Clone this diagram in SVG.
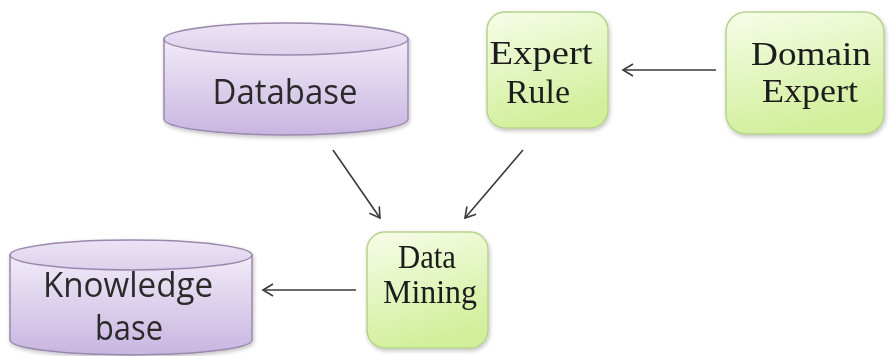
<svg xmlns="http://www.w3.org/2000/svg" width="889" height="356" viewBox="0 0 889 356">
  <defs>
    <linearGradient id="purple" x1="0" y1="0" x2="0" y2="1">
      <stop offset="0" stop-color="#f1ebf8"/>
      <stop offset="1" stop-color="#c8b5e0"/>
    </linearGradient>
    <linearGradient id="purpleTop" x1="0" y1="0" x2="0" y2="1">
      <stop offset="0" stop-color="#ece4f5"/>
      <stop offset="1" stop-color="#ddd0ec"/>
    </linearGradient>
    <linearGradient id="green" x1="0" y1="0" x2="0.3" y2="1">
      <stop offset="0" stop-color="#f7fde9"/>
      <stop offset="1" stop-color="#d2ef9c"/>
    </linearGradient>
    <marker id="arrow" viewBox="-12 -7 14 14" markerWidth="14" markerHeight="14" refX="0" refY="0" orient="auto" markerUnits="userSpaceOnUse">
      <path d="M-10,-6 L0,0 L-10,6" fill="none" stroke="#3a3a3a" stroke-width="1.6"/>
    </marker>
    <filter id="shadow" x="-10%" y="-10%" width="125%" height="125%">
      <feGaussianBlur in="SourceAlpha" stdDeviation="2"/>
      <feOffset dx="1" dy="2" result="b"/>
      <feComponentTransfer><feFuncA type="linear" slope="0.25"/></feComponentTransfer>
      <feMerge><feMergeNode/><feMergeNode in="SourceGraphic"/></feMerge>
    </filter>
  </defs>
  <style>
    .cyl { fill: url(#purple); stroke: #9a88ad; stroke-width: 1.5; }
    .cyltop { fill: url(#purpleTop); stroke: #9a88ad; stroke-width: 1.5; }
    .box { fill: url(#green); stroke: #b7d48e; stroke-width: 1.5; }
    .sans { font-family: "Open Sans", "Liberation Sans", sans-serif; font-size: 34px; fill: #2b2b2b; text-anchor: middle; }
    .serif { font-family: "Liberation Serif", "Times New Roman", serif; font-size: 33px; fill: #1a1a1a; text-anchor: middle; }
    .conn { stroke: #3a3a3a; stroke-width: 1.6; fill: none; }
  </style>

  <g id="database" filter="url(#shadow)">
    <path class="cyl" d="M164,39 L164,119 A122,16 0 0 0 408,119 L408,39 Z"/>
    <ellipse class="cyltop" cx="286" cy="39" rx="122" ry="16"/>
    <text class="sans" x="285" y="104" font-size="35" textLength="145" lengthAdjust="spacingAndGlyphs">Database</text>
  </g>

  <g id="expert-rule" filter="url(#shadow)">
    <rect class="box" x="487" y="12" width="121" height="116" rx="18"/>
    <text class="serif" x="541" y="64" textLength="103" lengthAdjust="spacingAndGlyphs">Expert</text>
    <text class="serif" x="538" y="103" textLength="64" lengthAdjust="spacingAndGlyphs">Rule</text>
  </g>

  <g id="domain-expert" filter="url(#shadow)">
    <rect class="box" x="726" y="12" width="158" height="122" rx="20"/>
    <text class="serif" x="811" y="65" textLength="120" lengthAdjust="spacingAndGlyphs">Domain</text>
    <text class="serif" x="810" y="102" textLength="96" lengthAdjust="spacingAndGlyphs">Expert</text>
  </g>

  <g id="data-mining" filter="url(#shadow)">
    <rect class="box" x="367" y="232" width="121" height="116" rx="18"/>
    <text class="serif" x="427" y="268" font-size="31" textLength="58" lengthAdjust="spacingAndGlyphs">Data</text>
    <text class="serif" x="430" y="303" font-size="31" textLength="94" lengthAdjust="spacingAndGlyphs">Mining</text>
  </g>

  <g id="knowledge-base" filter="url(#shadow)">
    <path class="cyl" d="M10,255 L10,340 A121,15 0 0 0 252,340 L252,255 Z"/>
    <ellipse class="cyltop" cx="131" cy="255" rx="121" ry="15"/>
    <text class="sans" x="128" y="297" font-size="31" textLength="170" lengthAdjust="spacingAndGlyphs">Knowledge</text>
    <text class="sans" x="129" y="340" font-size="31" textLength="68" lengthAdjust="spacingAndGlyphs">base</text>
  </g>

  <g id="connectors">
    <line class="conn" x1="716" y1="70" x2="623" y2="70" marker-end="url(#arrow)"/>
    <line class="conn" x1="333" y1="150" x2="380" y2="218" marker-end="url(#arrow)"/>
    <line class="conn" x1="523" y1="150" x2="465" y2="218" marker-end="url(#arrow)"/>
    <line class="conn" x1="356" y1="290" x2="263" y2="290" marker-end="url(#arrow)"/>
  </g>
</svg>
